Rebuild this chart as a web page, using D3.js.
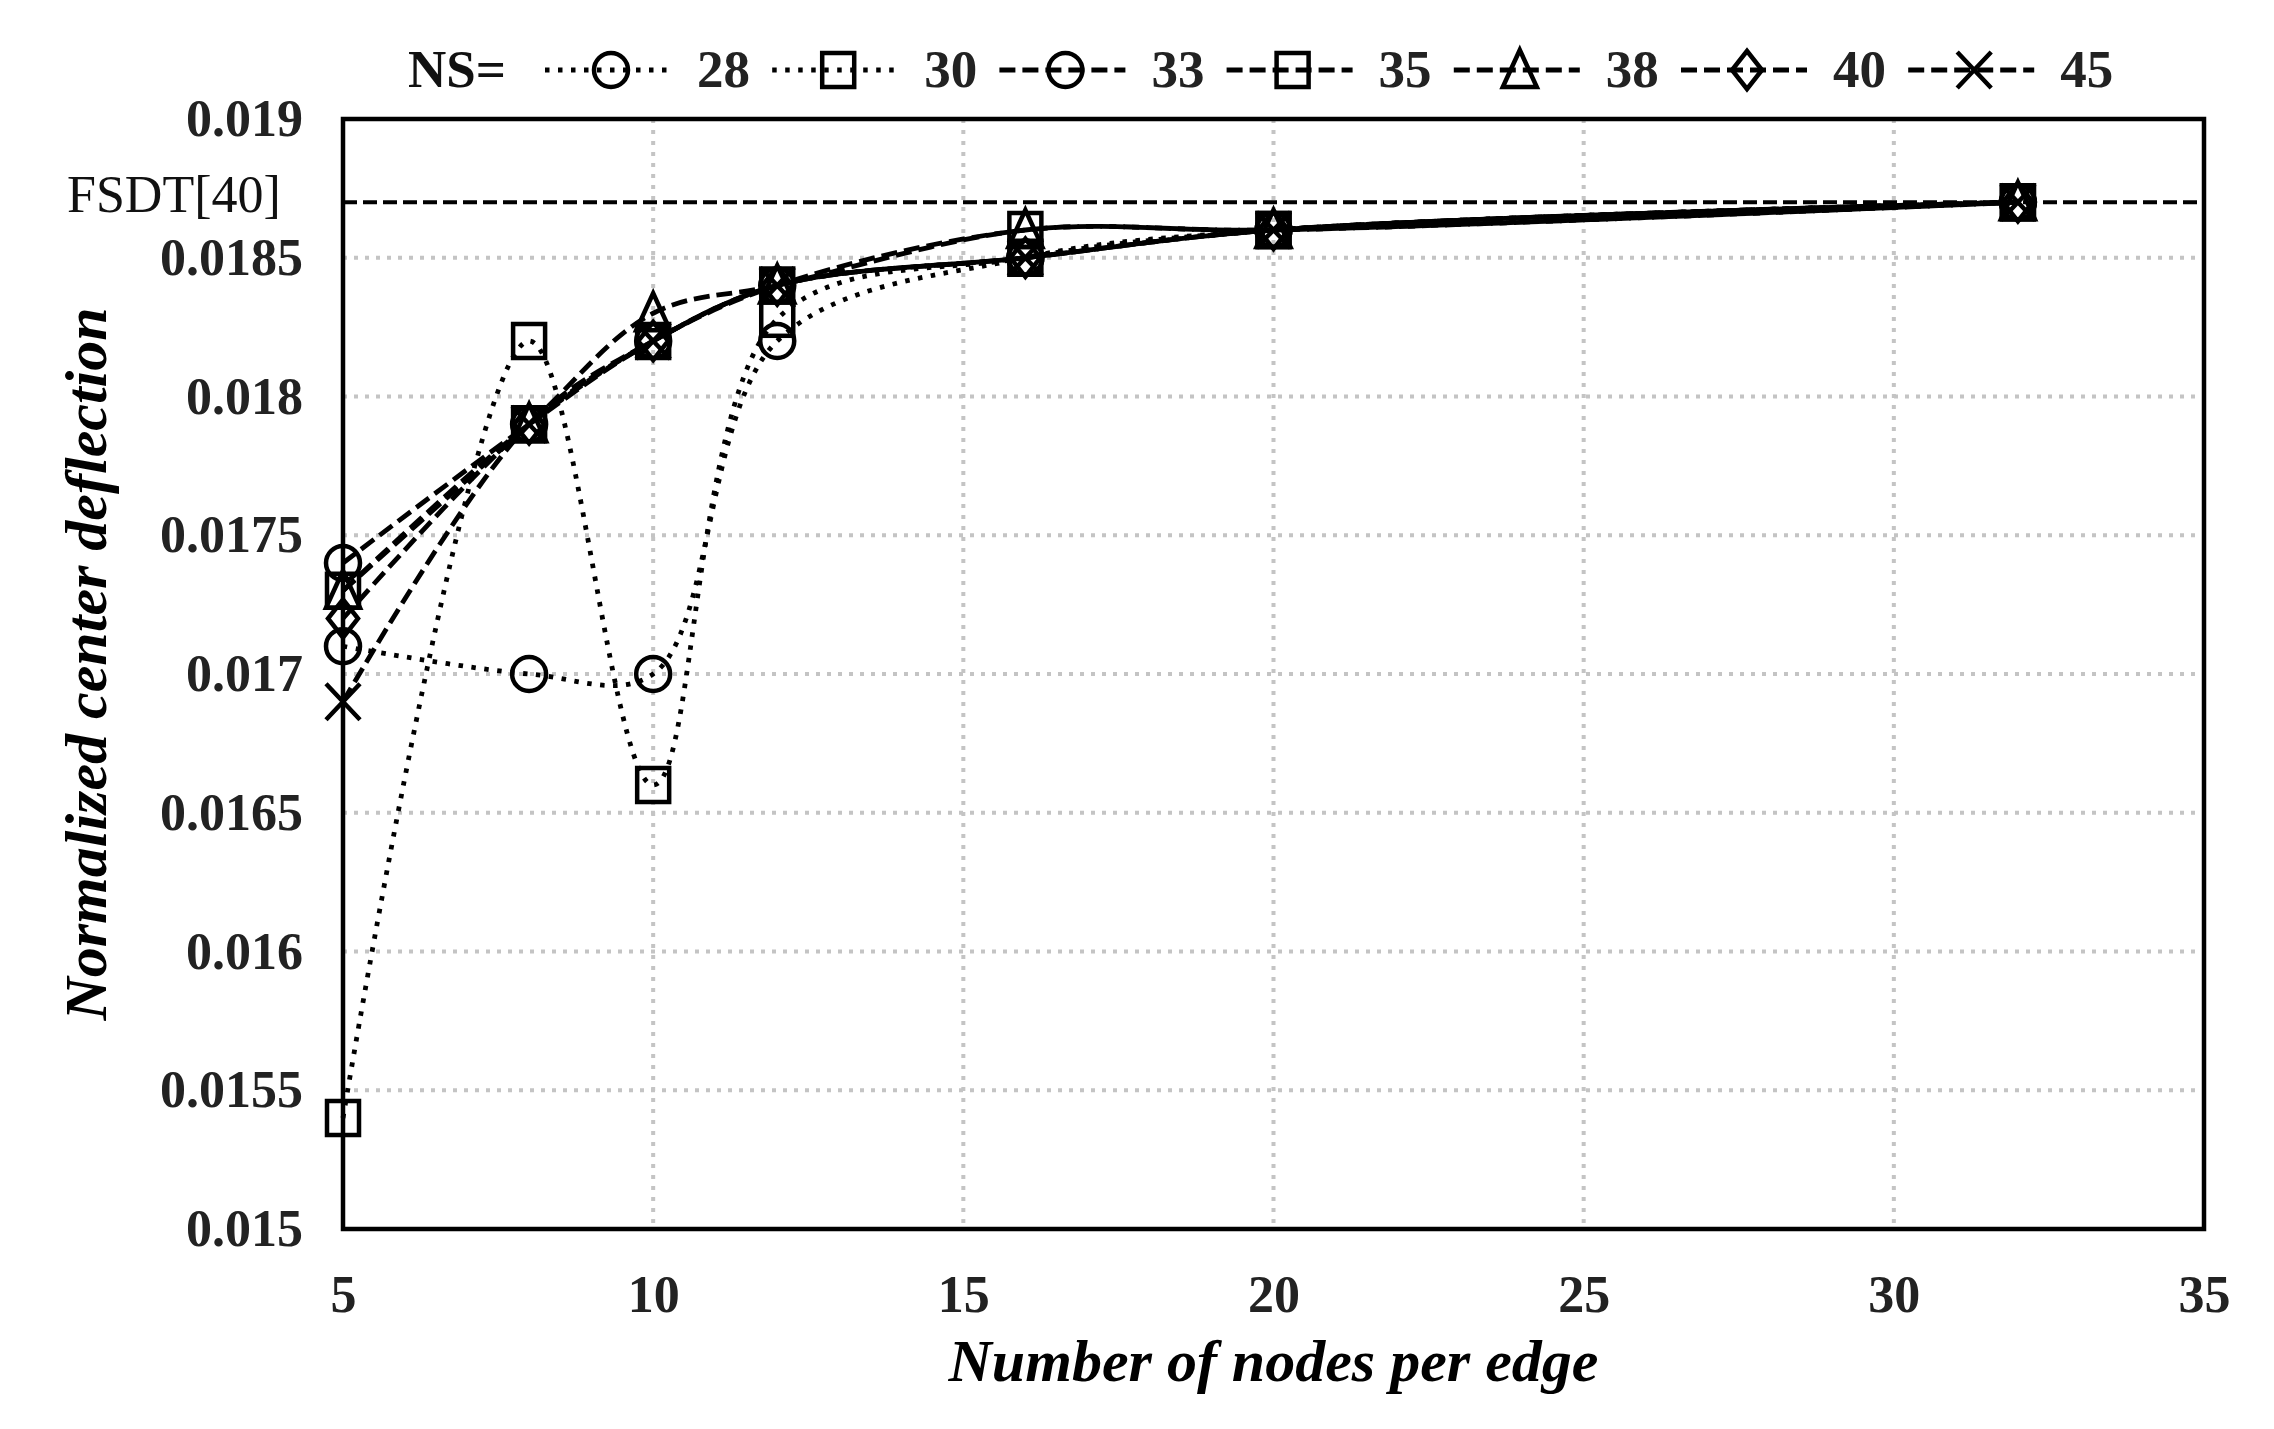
<!DOCTYPE html>
<html>
<head>
<meta charset="utf-8">
<script src="https://cdn.jsdelivr.net/npm/d3@7"></script>
<style>
  html, body { margin: 0; padding: 0; background: #ffffff; }
  svg { display: block; }
</style>
</head>
<body>
<svg id="chart" width="2274" height="1429"></svg>
<script>
// ---------------- data ----------------
const xValues = [5, 8, 10, 12, 16, 20, 32];
const seriesNames = ["28", "30", "33", "35", "38", "40", "45"];
const ns28 = [0.0171, 0.0170, 0.0170, 0.0182, 0.0185, 0.0186, 0.0187];
const ns30 = [0.0154, 0.0182, 0.0166, 0.01828, 0.0185, 0.0186, 0.0187];
const ns33 = [0.0174, 0.0179, 0.0182, 0.0184, 0.0185, 0.0186, 0.0187];
const ns35 = [0.0173, 0.0179, 0.0182, 0.0184, 0.0186, 0.0186, 0.0187];
const ns38 = [0.0173, 0.0179, 0.0183, 0.0184, 0.0186, 0.0186, 0.0187];
const ns40 = [0.0172, 0.0179, 0.0182, 0.0184, 0.0185, 0.0186, 0.0187];
const ns45 = [0.0169, 0.0179, 0.0182, 0.0184, 0.0185, 0.0186, 0.0187];
const markerTypes = ["circle", "square", "circle", "square", "triangle", "diamond", "cross"];
const lineTypes = ["dot", "dot", "dash", "dash", "dash", "dash", "dash"];
const yTickValues = [0.015, 0.0155, 0.016, 0.0165, 0.017, 0.0175, 0.018, 0.0185, 0.019];
const yTickLabels = ["0.015", "0.0155", "0.016", "0.0165", "0.017", "0.0175", "0.018", "0.0185", "0.019"];
const xTickValues = [5, 10, 15, 20, 25, 30, 35];
const xTickLabels = ["5", "10", "15", "20", "25", "30", "35"];
const fsdtValue = 0.0187;
const fsdtLabel = "FSDT[40]";
const legendTitle = "NS=";
const xTitle = "Number of nodes per edge";
const yTitle = "Normalized center deflection";

const seriesValues = [ns28, ns30, ns33, ns35, ns38, ns40, ns45];

// ---------------- layout ----------------
const L = 343, R = 2204, T = 119, B = 1229;
const svg = d3.select("#chart");
const x = d3.scaleLinear().domain([5, 35]).range([L, R]);
const y = d3.scaleLinear().domain([0.015, 0.019]).range([B, T]);

const serif = "'Liberation Serif', 'Times New Roman', serif";
const dash = { dot: "4.5 8.5", dash: "16 7" };
const lineW = { dot: 4.8, dash: 4.8 };

// gridlines
const grid = svg.append("g");
grid.selectAll("line.h").data(yTickValues.filter(v => v > 0.015 && v < 0.019)).enter()
  .append("line")
  .attr("x1", L).attr("x2", R)
  .attr("y1", d => y(d)).attr("y2", d => y(d))
  .attr("stroke", "#c4c4c4").attr("stroke-width", 4).attr("stroke-dasharray", "4 7");
grid.selectAll("line.v").data(xTickValues.filter(v => v > 5 && v < 35)).enter()
  .append("line")
  .attr("y1", T).attr("y2", B)
  .attr("x1", d => x(d)).attr("x2", d => x(d))
  .attr("stroke", "#c4c4c4").attr("stroke-width", 4).attr("stroke-dasharray", "4 7");

// FSDT reference line
svg.append("line")
  .attr("x1", L).attr("x2", R)
  .attr("y1", y(fsdtValue)).attr("y2", y(fsdtValue))
  .attr("stroke", "#000").attr("stroke-width", 4).attr("stroke-dasharray", "14 6");
svg.append("text")
  .attr("x", 67).attr("y", y(fsdtValue) + 10)
  .attr("font-family", serif).attr("font-size", 52).attr("fill", "#111")
  .text(fsdtLabel);

// axes
const yAxis = d3.axisLeft(y).tickValues(yTickValues)
  .tickFormat((d, i) => yTickLabels[i]).tickSize(0).tickPadding(40);
const gy = svg.append("g").attr("transform", `translate(${L},0)`).call(yAxis);
const xAxis = d3.axisBottom(x).tickValues(xTickValues)
  .tickFormat((d, i) => xTickLabels[i]).tickSize(0).tickPadding(46);
const gx = svg.append("g").attr("transform", `translate(0,${B})`).call(xAxis);
[gy, gx].forEach(g => {
  g.select(".domain").remove();
  g.selectAll("text")
    .attr("font-family", serif).attr("font-size", 52)
    .attr("font-weight", "bold").attr("fill", "#222");
});

// frame
svg.append("rect")
  .attr("x", L).attr("y", T).attr("width", R - L).attr("height", B - T)
  .attr("fill", "none").attr("stroke", "#000").attr("stroke-width", 4.5);

// marker drawing
function drawMarker(g, type, cx, cy) {
  const s = "#000", w = 4.5;
  if (type === "circle") {
    g.append("circle").attr("cx", cx).attr("cy", cy).attr("r", 17)
      .attr("fill", "none").attr("stroke", s).attr("stroke-width", w);
  } else if (type === "square") {
    g.append("rect").attr("x", cx - 16).attr("y", cy - 17).attr("width", 32).attr("height", 34)
      .attr("fill", "none").attr("stroke", s).attr("stroke-width", w);
  } else if (type === "triangle") {
    g.append("path")
      .attr("d", `M${cx},${cy - 20}L${cx + 17},${cy + 17}L${cx - 17},${cy + 17}Z`)
      .attr("fill", "none").attr("stroke", s).attr("stroke-width", w).attr("stroke-linejoin", "miter");
  } else if (type === "diamond") {
    g.append("path")
      .attr("d", `M${cx},${cy - 19}L${cx + 15},${cy}L${cx},${cy + 19}L${cx - 15},${cy}Z`)
      .attr("fill", "none").attr("stroke", s).attr("stroke-width", w);
  } else if (type === "cross") {
    g.append("path")
      .attr("d", `M${cx - 17},${cy - 18}L${cx + 17},${cy + 18}M${cx + 17},${cy - 18}L${cx - 17},${cy + 18}`)
      .attr("fill", "none").attr("stroke", s).attr("stroke-width", w);
  }
}

// series lines
const line = d3.line()
  .x(d => x(d[0])).y(d => y(d[1]))
  .curve(d3.curveCatmullRom.alpha(0.5));
const plot = svg.append("g");
seriesValues.forEach((vals, i) => {
  const pts = xValues.map((xv, j) => [xv, vals[j]]);
  plot.append("path")
    .attr("d", line(pts))
    .attr("fill", "none").attr("stroke", "#000")
    .attr("stroke-width", lineW[lineTypes[i]])
    .attr("stroke-dasharray", dash[lineTypes[i]]);
});
seriesValues.forEach((vals, i) => {
  const g = plot.append("g");
  xValues.forEach((xv, j) => drawMarker(g, markerTypes[i], x(xv), y(vals[j])));
});

// legend
const legY = 70;
svg.append("text")
  .attr("x", 408).attr("y", legY + 17)
  .attr("font-family", serif).attr("font-size", 53).attr("font-weight", "bold").attr("fill", "#111")
  .text(legendTitle);
seriesNames.forEach((name, i) => {
  const cx = 611 + i * 227.2;
  const g = svg.append("g");
  g.append("line")
    .attr("x1", cx - 66).attr("x2", cx + 60).attr("y1", legY).attr("y2", legY)
    .attr("stroke", "#000").attr("stroke-width", lineW[lineTypes[i]])
    .attr("stroke-dasharray", dash[lineTypes[i]]);
  drawMarker(g, markerTypes[i], cx, legY);
  g.append("text")
    .attr("x", cx + 86).attr("y", legY + 17)
    .attr("font-family", serif).attr("font-size", 53).attr("font-weight", "bold").attr("fill", "#222")
    .text(name);
});

// axis titles
svg.append("text")
  .attr("x", (L + R) / 2).attr("y", 1381)
  .attr("text-anchor", "middle")
  .attr("font-family", serif).attr("font-size", 60)
  .attr("font-weight", "bold").attr("font-style", "italic").attr("fill", "#000")
  .text(xTitle);
svg.append("text")
  .attr("transform", `translate(106,664) rotate(-90)`)
  .attr("text-anchor", "middle")
  .attr("font-family", serif).attr("font-size", 60)
  .attr("font-weight", "bold").attr("font-style", "italic").attr("fill", "#000")
  .text(yTitle);
</script>
</body>
</html>
